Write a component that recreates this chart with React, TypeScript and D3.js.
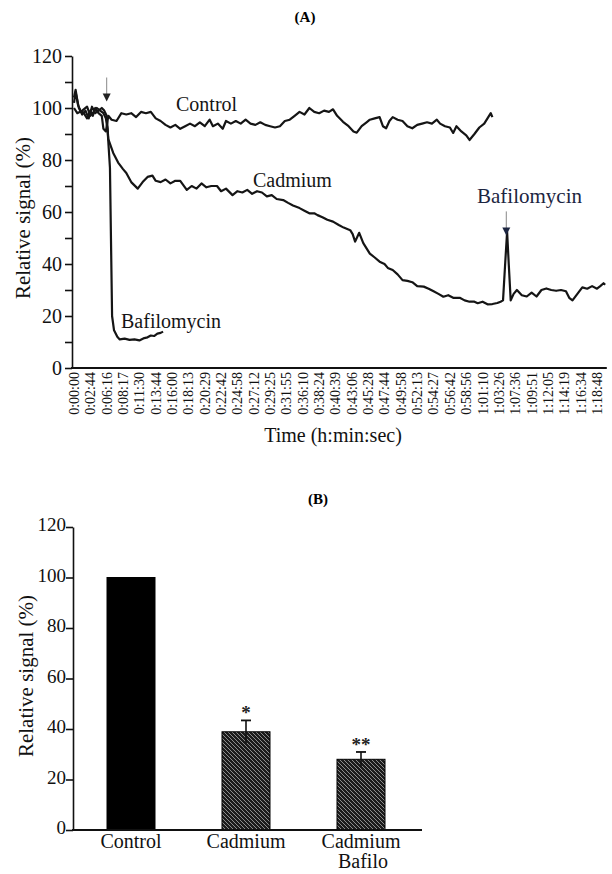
import React, { useEffect, useRef } from 'react'
import * as d3 from 'd3'

// panel A: x axis is sample index, labelled with the clock time of each sample
const timeLabels = [
  '0:00:00', '0:02:44', '0:06:16', '0:08:17', '0:11:30', '0:13:44', '0:16:00', '0:18:13',
  '0:20:29', '0:22:42', '0:24:58', '0:27:12', '0:29:25', '0:31:55', '0:36:10', '0:38:24',
  '0:40:39', '0:43:06', '0:45:28', '0:47:44', '0:49:58', '0:52:13', '0:54:27', '0:56:42',
  '0:58:56', '1:01:10', '1:03:26', '1:07:36', '1:09:51', '1:12:05', '1:14:19', '1:16:34', '1:18:48'
]

// [sample index, relative signal %]
const controlTrace: [number, number][] = [
  [0, 104], [0.1, 107], [0.25, 101], [0.4, 99], [0.6, 98], [0.8, 96], [1.0, 99], [1.15, 97],
  [1.3, 100], [1.5, 98], [1.7, 97], [1.8, 92], [1.95, 91], [2.1, 97], [2.3, 95.5], [2.6, 95],
  [2.9, 98], [3.2, 97.5], [3.5, 98], [3.8, 96.5], [4.1, 98.5], [4.4, 98], [4.7, 98.5], [5.0, 96],
  [5.3, 95], [5.6, 93.5], [5.9, 92.5], [6.2, 93.5], [6.5, 92], [6.8, 93], [7.1, 94], [7.4, 93],
  [7.7, 94.5], [8.0, 93], [8.3, 95.5], [8.5, 93], [8.8, 94], [9.1, 92], [9.3, 95], [9.6, 94],
  [9.9, 95], [10.2, 94], [10.5, 95.5], [10.8, 94], [11.1, 93.5], [11.4, 94.5], [11.7, 93.5],
  [12.0, 93], [12.3, 92.5], [12.6, 93], [12.9, 95], [13.2, 95.5], [13.5, 97], [13.8, 98.5],
  [14.1, 97.5], [14.4, 100], [14.7, 98.5], [15.0, 98], [15.3, 99], [15.6, 98.5], [15.85, 99.5],
  [16.1, 97], [16.46, 94.7], [16.8, 93], [17.1, 91], [17.3, 90.5], [17.6, 93], [17.9, 94.5],
  [18.1, 95.5], [18.4, 96], [18.7, 96.5], [18.9, 93], [19.1, 92.2], [19.3, 95], [19.5, 96.5],
  [19.8, 95.5], [20.1, 95], [20.4, 93], [20.7, 92.2], [21.0, 93.5], [21.3, 94], [21.6, 94.5],
  [21.9, 94], [22.2, 95.5], [22.4, 94], [22.7, 93], [23.0, 92.5], [23.2, 90.4], [23.4, 93],
  [23.7, 91], [24.0, 89.5], [24.2, 87.7], [24.5, 90], [24.8, 92.5], [25.1, 94], [25.3, 96],
  [25.5, 98], [25.6, 96.5]
]

const cadmiumTrace: [number, number][] = [
  [0, 102], [0.1, 106], [0.3, 100], [0.5, 97.5], [0.7, 99], [0.9, 96], [1.1, 100.5], [1.3, 98],
  [1.5, 99], [1.7, 100], [1.85, 99], [2.0, 97], [2.1, 88], [2.4, 82.7], [2.7, 79], [3.0, 76.5],
  [3.2, 75], [3.5, 71.5], [3.9, 69], [4.2, 71.5], [4.5, 73.5], [4.8, 74], [5.0, 72], [5.3, 71.5],
  [5.6, 72.5], [5.9, 71], [6.2, 72], [6.5, 72], [6.9, 68.5], [7.2, 70], [7.5, 69], [7.8, 71],
  [8.1, 69.5], [8.4, 70], [8.75, 70], [9.0, 68], [9.3, 69], [9.7, 66.5], [10.0, 68], [10.3, 67.5],
  [10.6, 68.5], [10.9, 67], [11.2, 68], [11.5, 67.5], [11.8, 66], [12.1, 66.5], [12.4, 65],
  [12.8, 64.6], [13.1, 63.5], [13.4, 62.5], [13.8, 61.5], [14.1, 60.5], [14.4, 59.5], [14.7, 59.5],
  [14.9, 58.8], [15.2, 58], [15.5, 57], [15.85, 56.3], [16.2, 55], [16.5, 54], [16.9, 53],
  [17.05, 51.5], [17.2, 48.6], [17.45, 52], [17.7, 48], [18.1, 44], [18.4, 42.5], [18.7, 40.9],
  [19.0, 40], [19.2, 38.5], [19.5, 37.7], [19.8, 36], [20.1, 33.8], [20.4, 33.5], [20.7, 33],
  [21.0, 31.5], [21.4, 31.3], [21.7, 30.5], [22.0, 29.5], [22.3, 28.5], [22.6, 27.4], [22.9, 28],
  [23.2, 27], [23.6, 27], [23.9, 26], [24.2, 25.5], [24.5, 25.5], [24.7, 24.9], [25.0, 25.5],
  [25.3, 24.5], [25.6, 24.6], [25.9, 25], [26.1, 25.5], [26.25, 26], [26.38, 40], [26.5, 52.4],
  [26.6, 40], [26.72, 26], [26.9, 28.5], [27.1, 30], [27.4, 28], [27.7, 27.5], [28.0, 29],
  [28.3, 27.5], [28.6, 30], [28.9, 30.6], [29.2, 30], [29.5, 29.7], [29.8, 30], [30.1, 29.5],
  [30.3, 27], [30.5, 26], [30.8, 28.5], [31.1, 31], [31.4, 30.5], [31.7, 31.5], [32.0, 30.5],
  [32.2, 31.5], [32.4, 32.6], [32.5, 32]
]

const bafilomycinTrace: [number, number][] = [
  [0, 100], [0.2, 98], [0.5, 99], [0.8, 100.5], [1.0, 97], [1.2, 98.5], [1.4, 100], [1.6, 99],
  [1.8, 98], [1.95, 96], [2.05, 92], [2.2, 77], [2.33, 20], [2.45, 14.5], [2.65, 12], [2.8, 11],
  [3.1, 11.3], [3.4, 10.8], [3.7, 11], [4.0, 10.6], [4.3, 11.5], [4.5, 11.8], [4.7, 12.5],
  [4.9, 12.3], [5.1, 13.2], [5.3, 13.5], [5.45, 14]
]

const yTicks = [0, 20, 40, 60, 80, 100, 120]

// panel B
const barGroups = ['Control', 'Cadmium', 'Cadmium Bafilo']
const barValues = [100, 38.9, 28]
const barErrors = [0, 4.5, 2.9]
const barStars = ['', '*', '**']

const serif = 'Liberation Serif'

export default function App () {
  const ref = useRef<SVGSVGElement>(null)

  useEffect(() => {
    const svg = d3.select(ref.current)
    svg.selectAll('*').remove()

    const defs = svg.append('defs')
    const pat = defs.append('pattern').attr('id', 'hatch')
      .attr('patternUnits', 'userSpaceOnUse').attr('width', 4).attr('height', 4)
    pat.append('rect').attr('width', 4).attr('height', 4).attr('fill', '#1c1c1c')
    pat.append('path').attr('d', 'M-1,-1L5,5M-1,3L1,5M3,-1L5,1')
      .attr('stroke', '#9a9a9a').attr('stroke-width', 0.9)

    // ---------- panel A ----------
    const gA = svg.append('g')
    const x = d3.scaleLinear().domain([0, timeLabels.length - 1]).range([74, 597])
    const y = d3.scaleLinear().domain([0, 120]).range([368, 56])

    gA.append('text').attr('x', 305).attr('y', 22).attr('text-anchor', 'middle')
      .attr('font-family', serif).attr('font-weight', 'bold').attr('font-size', 15).text('(A)')

    const yAxis = gA.append('g').attr('transform', 'translate(72,0)')
      .call(d3.axisLeft(y).tickValues(d3.range(0, 121, 10)).tickSize(7).tickSizeOuter(0)
        .tickFormat((d: any) => (yTicks.includes(d) ? String(d) : '')))
    yAxis.attr('font-family', serif)
    yAxis.selectAll('path, line').attr('stroke', '#111').attr('stroke-width', 1.6)
    yAxis.selectAll('text').attr('font-family', serif).attr('font-size', 20).attr('fill', '#111')

    gA.append('line').attr('x1', 71).attr('x2', x(32.6)).attr('y1', y(0)).attr('y2', y(0))
      .attr('stroke', '#111').attr('stroke-width', 1.8)

    gA.selectAll('.tl').data(timeLabels).join('text')
      .attr('transform', (d, i) => `translate(${x(i)},372) rotate(-90)`)
      .attr('text-anchor', 'end').attr('dy', '0.35em')
      .attr('font-family', serif).attr('font-size', 14).attr('fill', '#111')
      .text(d => d)

    gA.append('text').attr('x', 333).attr('y', 442).attr('text-anchor', 'middle')
      .attr('font-family', serif).attr('font-size', 20).attr('fill', '#111').text('Time (h:min:sec)')

    gA.append('text').attr('transform', `translate(30,${(y(0) + y(120)) / 2 + 6}) rotate(-90)`)
      .attr('text-anchor', 'middle').attr('font-family', serif).attr('font-size', 21)
      .attr('fill', '#111').text('Relative signal (%)')

    const line = d3.line<[number, number]>().x(d => x(d[0])).y(d => y(d[1]))
    ;[controlTrace, cadmiumTrace, bafilomycinTrace].forEach(tr => {
      gA.append('path').datum(tr).attr('d', line).attr('fill', 'none')
        .attr('stroke', '#151515').attr('stroke-width', 2.2).attr('stroke-linejoin', 'round')
    })

    // addition arrows
    const arrow = (ax: number, tip: number, col: string) => {
      gA.append('line').attr('x1', ax).attr('x2', ax).attr('y1', tip - 24).attr('y2', tip - 6)
        .attr('stroke', '#888').attr('stroke-width', 1)
      gA.append('path').attr('d', `M${ax - 4},${tip - 8}L${ax + 4},${tip - 8}L${ax},${tip}Z`).attr('fill', col)
    }
    arrow(x(2.0), y(102.5), '#222')
    arrow(x(26.45), y(51), '#1c2541')

    const label = (lx: number, ly: number, t: string, col = '#151515', fs = 20) =>
      gA.append('text').attr('x', lx).attr('y', ly).attr('font-family', serif)
        .attr('font-size', fs).attr('fill', col).text(t)
    label(176, 111, 'Control')
    label(253, 187, 'Cadmium')
    label(121, 328, 'Bafilomycin')
    label(477, 203, 'Bafilomycin', '#1c2541', 21)

    // ---------- panel B ----------
    const gB = svg.append('g')
    const xb = d3.scaleBand().domain(barGroups).range([73, 419]).paddingInner(0.5826).paddingOuter(0.2957)
    const yb = d3.scaleLinear().domain([0, 120]).range([830, 527])

    gB.append('text').attr('x', 318).attr('y', 504).attr('text-anchor', 'middle')
      .attr('font-family', serif).attr('font-weight', 'bold').attr('font-size', 15).text('(B)')

    const ybAxis = gB.append('g').attr('transform', 'translate(73,0)')
      .call(d3.axisLeft(yb).tickValues(yTicks).tickSize(7).tickSizeOuter(0).tickPadding(0))
    ybAxis.attr('font-family', serif)
    ybAxis.selectAll('path, line').attr('stroke', '#111').attr('stroke-width', 1.6)
    ybAxis.selectAll('text').attr('font-family', serif).attr('font-size', 19).attr('fill', '#111')
      .attr('dy', '0.2em')

    gB.append('text').attr('transform', `translate(33,676) rotate(-90)`)
      .attr('text-anchor', 'middle').attr('font-family', serif).attr('font-size', 21)
      .attr('fill', '#111').text('Relative signal (%)')

    gB.selectAll('.bar').data(barGroups).join('rect')
      .attr('x', d => xb(d)!).attr('width', xb.bandwidth())
      .attr('y', (d, i) => yb(barValues[i])).attr('height', (d, i) => yb(0) - yb(barValues[i]))
      .attr('fill', (d, i) => (i === 0 ? '#000' : 'url(#hatch)'))
      .attr('stroke', '#000').attr('stroke-width', 1)

    barGroups.forEach((g, i) => {
      if (!barErrors[i]) return
      const cx = xb(g)! + xb.bandwidth() / 2
      const top = yb(barValues[i] + barErrors[i])
      gB.append('line').attr('x1', cx).attr('x2', cx).attr('y1', yb(barValues[i] - barErrors[i]))
        .attr('y2', top).attr('stroke', '#111').attr('stroke-width', 1.6)
      gB.append('line').attr('x1', cx - 5).attr('x2', cx + 5).attr('y1', top).attr('y2', top)
        .attr('stroke', '#111').attr('stroke-width', 1.8)
      gB.append('text').attr('x', cx).attr('y', top - 1).attr('text-anchor', 'middle')
        .attr('font-family', serif).attr('font-size', 19).attr('font-weight', 'bold')
        .attr('fill', '#222').text(barStars[i])
    })

    gB.append('line').attr('x1', 72).attr('x2', 422).attr('y1', yb(0)).attr('y2', yb(0))
      .attr('stroke', '#111').attr('stroke-width', 1.8)

    barGroups.forEach(g => {
      const t = gB.append('text').attr('x', xb(g)! + xb.bandwidth() / 2).attr('y', 848)
        .attr('text-anchor', 'middle').attr('font-family', serif).attr('font-size', 20).attr('fill', '#111')
      g.split(' ').forEach((w, k) => {
        t.append('tspan').attr('x', xb(g)! + xb.bandwidth() / 2 + (k ? 2 : 0)).attr('dy', k ? 20 : 0).text(w)
      })
    })
  }, [])

  return (
    <svg ref={ref} width={612} height={874}
      style={{ position: 'absolute', left: 0, top: 0, background: '#fff', fontFamily: 'Liberation Serif' }} />
  )
}
